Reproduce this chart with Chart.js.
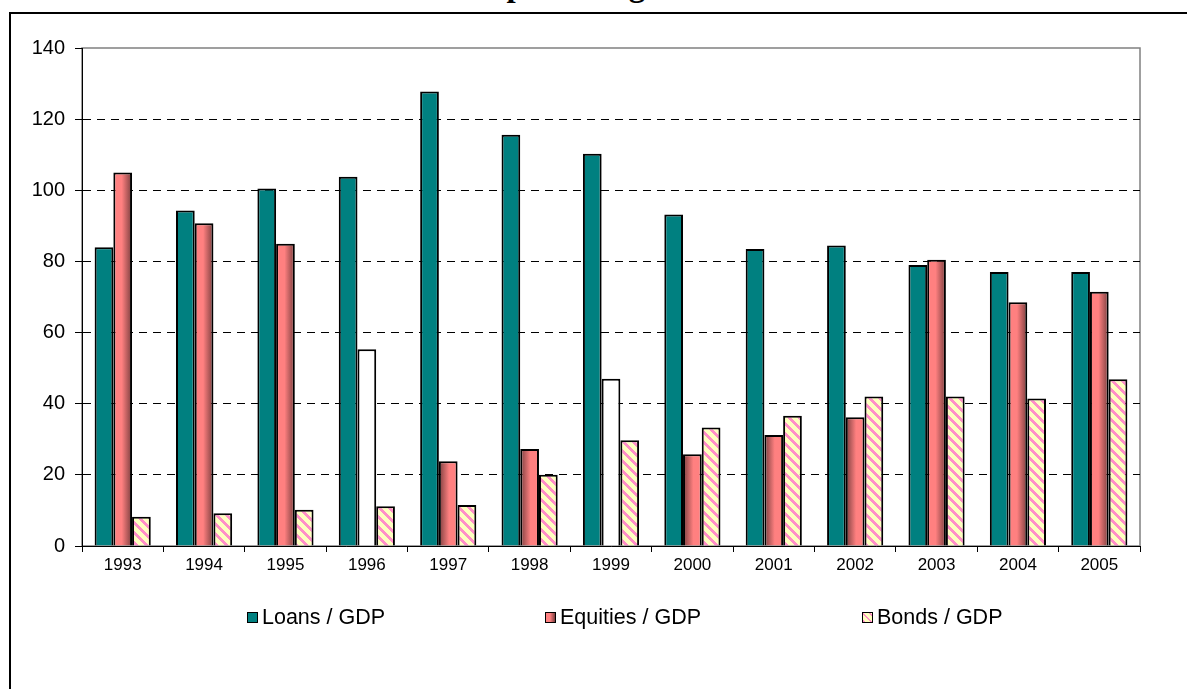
<!DOCTYPE html>
<html>
<head>
<meta charset="utf-8">
<script src="https://cdn.jsdelivr.net/npm/chart.js@4.4.1/dist/chart.umd.min.js"></script>
<style>
  html, body { margin: 0; padding: 0; background: #fff; }
  #wrap { position: relative; width: 1187px; height: 689px; overflow: hidden; }
  #frame { position: absolute; left: 9px; top: 12px; width: 1200px; height: 700px;
           border-left: 2px solid #000; border-top: 2px solid #000; }
  #title { position: absolute; top: -31px; left: 24px; width: 1187px; text-align: center;
           font: bold 33px "Liberation Serif", "Times New Roman", serif; line-height: 33px; color: #000; }
  #chart { position: absolute; left: 0; top: 0; }
  .item { position: absolute; top: 604px; font: 21.5px "Liberation Sans", Arial, sans-serif; color: #000;
          line-height: 26px; white-space: nowrap; }
  .item i { display: inline-block; width: 9px; height: 9px; border: 1.5px solid #000;
            margin-right: 4px; vertical-align: 1px; }
</style>
</head>
<body>
<div id="wrap">
  <div id="title">As percentage of GDP</div>
  <div id="frame"></div>
  <canvas id="chart" width="1187" height="689"></canvas>
  <div id="legend"></div>
</div>
<script>
// annual ratios, 1993-2005
const years = ["1993", "1994", "1995", "1996", "1997", "1998", "1999",
               "2000", "2001", "2002", "2003", "2004", "2005"];
const seriesNames = ["Loans / GDP", "Equities / GDP", "Bonds / GDP"];
const loans    = [84, 94.3, 100.5, 103.8, 127.8, 115.6, 110.3, 93.2, 83.5, 84.5, 79, 77, 77];
const equities = [105, 90.7, 85, 55.3, 23.8, 27.3, 47, 25.8, 31.2, 36.2, 80.5, 68.5, 71.5];
const bonds    = [8.2, 9.2, 10.2, 11.2, 11.5, 20, 29.7, 33.3, 36.6, 42, 42, 41.5, 46.9];
const yTicks   = [0, 20, 40, 60, 80, 100, 120, 140];

// equities bars left unfilled in these years
const hollowYears = ["1996", "1999"];

const TEAL = "#008080";
const SALMON = "#FF8080";
const SALMON_DARK = "#7A3E3E";
const PINK = "#FF8FC8";
const CREAM = "#FFFFC0";

// diagonal stripe fill for the bonds series
function stripes() {
  const n = 10;
  const c = document.createElement("canvas");
  c.width = n; c.height = n;
  const g = c.getContext("2d");
  g.fillStyle = CREAM;
  g.fillRect(0, 0, n, n);
  g.fillStyle = PINK;
  for (let y = 0; y < n; y++) {
    for (let x = 0; x < n; x++) {
      if (((x - y) % n + n) % n < 4) g.fillRect(x, y, 1, 1);
    }
  }
  return g.createPattern(c, "repeat");
}
const bondFill = stripes();

// shaded equities bars: the dark edge sits on the right for the tall ones
const shading = {
  id: "shading",
  beforeDatasetsDraw(chart) {
    const ctx = chart.ctx;
    chart.getDatasetMeta(1).data.forEach((bar, i) => {
      if (hollowYears.includes(years[i])) {
        bar.options.backgroundColor = "#fff";
        return;
      }
      const x0 = bar.x - bar.width / 2;
      const x1 = bar.x + bar.width / 2;
      const g = ctx.createLinearGradient(x0, 0, x1, 0);
      if (equities[i] > 60) {
        g.addColorStop(0, SALMON);
        g.addColorStop(0.45, SALMON);
        g.addColorStop(1, SALMON_DARK);
      } else {
        g.addColorStop(0, SALMON_DARK);
        g.addColorStop(0.55, SALMON);
        g.addColorStop(1, SALMON);
      }
      bar.options.backgroundColor = g;
    });
  }
};

// grey box round the plot area
const plotFrame = {
  id: "plotFrame",
  beforeDraw(chart) {
    const a = chart.chartArea;
    const ctx = chart.ctx;
    ctx.save();
    ctx.strokeStyle = "#808080";
    ctx.lineWidth = 1.5;
    ctx.strokeRect(a.left, a.top, a.right - a.left, a.bottom - a.top);
    ctx.restore();
  }
};

Chart.defaults.font.family = "'Liberation Sans', Arial, sans-serif";
Chart.defaults.color = "#000";

const bar = (label, data, fill) => ({
  label: label,
  data: data,
  backgroundColor: fill,
  borderColor: "#000",
  borderWidth: 2,
  barPercentage: 1,
  categoryPercentage: 0.69
});

new Chart(document.getElementById("chart"), {
  type: "bar",
  data: {
    labels: years,
    datasets: [
      bar(seriesNames[0], loans, TEAL),
      bar(seriesNames[1], equities, () => SALMON),
      bar(seriesNames[2], bonds, bondFill)
    ]
  },
  options: {
    responsive: false,
    animation: false,
    layout: { padding: { left: 10, right: 47, top: 48, bottom: 103 } },
    plugins: {
      legend: { display: false },
      tooltip: { enabled: false }
    },
    scales: {
      x: {
        grid: { offset: true, drawOnChartArea: false, color: "#000", tickLength: 6 },
        border: { color: "#000", width: 1 },
        ticks: { font: { size: 17 }, padding: 3, maxRotation: 0 },
        afterFit: s => { s.height = 40; }
      },
      y: {
        min: 0,
        max: 140,
        afterBuildTicks: s => { s.ticks = yTicks.map(v => ({ value: v })); },
        ticks: { font: { size: 20 }, padding: 10 },
        grid: {
          color: c => (c.tick && (c.tick.value === 0 || c.tick.value === 140)) ? "rgba(0,0,0,0)" : "#000",
          tickColor: "#000",
          tickLength: 7,
          lineWidth: 1
        },
        border: { color: "#000", width: 1, dash: [8, 6] },
        afterFit: s => { s.width = 72; }
      }
    }
  },
  plugins: [plotFrame, shading]
});

// legend below the chart
const swatches = [
  "background:" + TEAL,
  "background:linear-gradient(to right," + SALMON + " 45%," + SALMON_DARK + ")",
  "background:repeating-linear-gradient(45deg," + PINK + " 0 2px," + CREAM + " 2px 5px)"
];
const legendX = [247, 545, 862];
const legend = document.getElementById("legend");
seriesNames.forEach((name, i) => {
  const el = document.createElement("div");
  el.className = "item";
  el.style.left = legendX[i] + "px";
  el.innerHTML = '<i style="' + swatches[i] + '"></i>' + name;
  legend.appendChild(el);
});
</script>
</body>
</html>
